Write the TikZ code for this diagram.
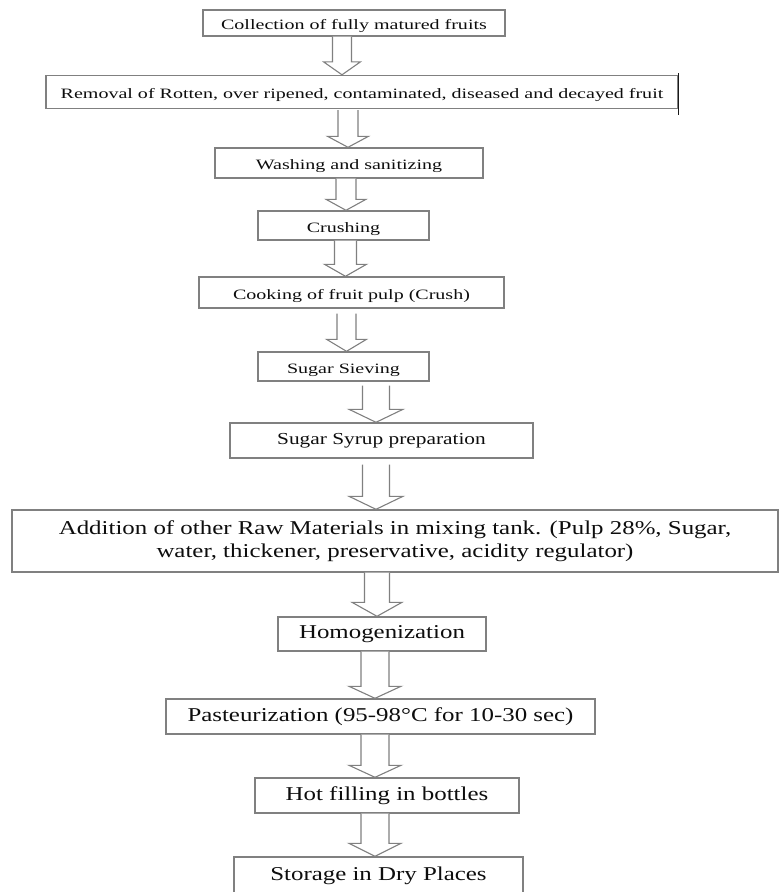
\documentclass[tikz,border=0pt]{standalone}
\usepackage{fontspec}
\setmainfont{Liberation Serif}
\newfontfamily\stagesmallfont[FakeStretch=1.4]{Liberation Serif}
\newfontfamily\stagelargefont[FakeStretch=1.27]{Liberation Serif}
\usetikzlibrary{calc}

\tikzset{
  stage/.style={draw=black!50, line width=1.4pt, rectangle, inner sep=0pt,
    text=black!95, align=center},
  smalltext/.style={font=\stagesmallfont\fontsize{14.3}{17}\selectfont,
    text height=13pt, text depth=0pt},
  largetext/.style={font=\stagelargefont\fontsize{19.6}{23.5}\selectfont},
  syruptext/.style={font=\stagelargefont\fontsize{16.8}{20}\selectfont},
  flowarrow/.style={draw=black!50, line width=1.1pt, line join=miter, fill=white}
}

% hollow block arrow from the bottom of #1 down to the top of #2
% #3 x centre, #4 shaft half width, #5 head half width, #6 head length, #7 gap below #1 (all pt)
\newcommand\blockarrow[7]{%
  \draw[flowarrow] let \p1=(#1.south), \p2=(#2.north) in
    ({#3-#4},{\y1-#7}) -- ({#3-#4},{\y2+#6}) -- ({#3-#5},{\y2+#6}) -- (#3,\y2)
    -- ({#3+#5},{\y2+#6}) -- ({#3+#4},{\y2+#6}) -- ({#3+#4},{\y1-#7});
}

\begin{document}
\begin{tikzpicture}[x=1pt, y=-1pt]
  \useasboundingbox (0,0) rectangle (779,892);
  \clip (0,0) rectangle (779,892);

  % process stages
  \node[stage, smalltext, minimum width=302pt, minimum height=26pt] (b1) at (354,23)
    {Collection of fully matured fruits};
  \node[stage, smalltext, minimum width=632pt, minimum height=33pt] (b2) at (362,92)
    {Removal of Rotten, over ripened, contaminated, diseased and decayed fruit};
  \node[stage, smalltext, minimum width=268pt, minimum height=30pt] (b3) at (349,163)
    {Washing and sanitizing};
  \node[stage, smalltext, minimum width=171pt, minimum height=29pt] (b4) at (343.5,225.5)
    {Crushing};
  \node[stage, smalltext, minimum width=305pt, minimum height=31pt] (b5) at (351.5,292.5)
    {Cooking of fruit pulp (Crush)};
  \node[stage, smalltext, minimum width=171pt, minimum height=29pt] (b6) at (343.5,366.5)
    {Sugar Sieving};
  \node[stage, syruptext, minimum width=303pt, minimum height=35pt] (b7) at (381.5,440.5)
    {Sugar Syrup preparation};
  \node[stage, largetext, minimum width=766pt, minimum height=62pt] (b8) at (395,541)
    {Addition of other Raw Materials in mixing tank. (Pulp 28\%, Sugar,\\
     water, thickener, preservative, acidity regulator)};
  \node[stage, largetext, minimum width=208pt, minimum height=34pt] (b9) at (382,634)
    {Homogenization};
  \node[stage, largetext, minimum width=429pt, minimum height=35pt] (b10) at (380.5,716.5)
    {Pasteurization (95-98°C for 10-30 sec)};
  \node[stage, largetext, minimum width=264pt, minimum height=35pt] (b11) at (387,795.5)
    {Hot filling in bottles};
  \node[stage, largetext, minimum width=289pt, minimum height=38pt] (b12) at (378.5,876)
    {Storage in Dry Places};

  % dark right edge of the sorting box
  \path (b2.north east) ++(0,-1.5) coordinate (b2top)
        (b2.south east) ++(0,5.5) coordinate (b2bot);
  \draw[black!90, line width=1.5pt] (b2top) -- (b2bot);

  % flow arrows
  \blockarrow{b1}{b2}{342pt}{9.5pt}{18.5pt}{13pt}{0pt}
  \blockarrow{b2}{b3}{348pt}{10pt}{20.5pt}{11pt}{1pt}
  \blockarrow{b3}{b4}{346pt}{10pt}{20pt}{11pt}{0pt}
  \blockarrow{b4}{b5}{345.5pt}{11pt}{21pt}{12pt}{0pt}
  \blockarrow{b5}{b6}{346.5pt}{9.5pt}{20pt}{12pt}{5pt}
  \blockarrow{b6}{b7}{376pt}{13.5pt}{27pt}{13pt}{4pt}
  \blockarrow{b7}{b8}{376pt}{13.5pt}{27pt}{13pt}{6pt}
  \blockarrow{b8}{b9}{377pt}{12.5pt}{25pt}{14pt}{0pt}
  \blockarrow{b9}{b10}{375pt}{14pt}{26pt}{12pt}{0pt}
  \blockarrow{b10}{b11}{375pt}{14pt}{26pt}{12pt}{0pt}
  \blockarrow{b11}{b12}{375pt}{14pt}{26pt}{13pt}{0pt}
\end{tikzpicture}
\end{document}
